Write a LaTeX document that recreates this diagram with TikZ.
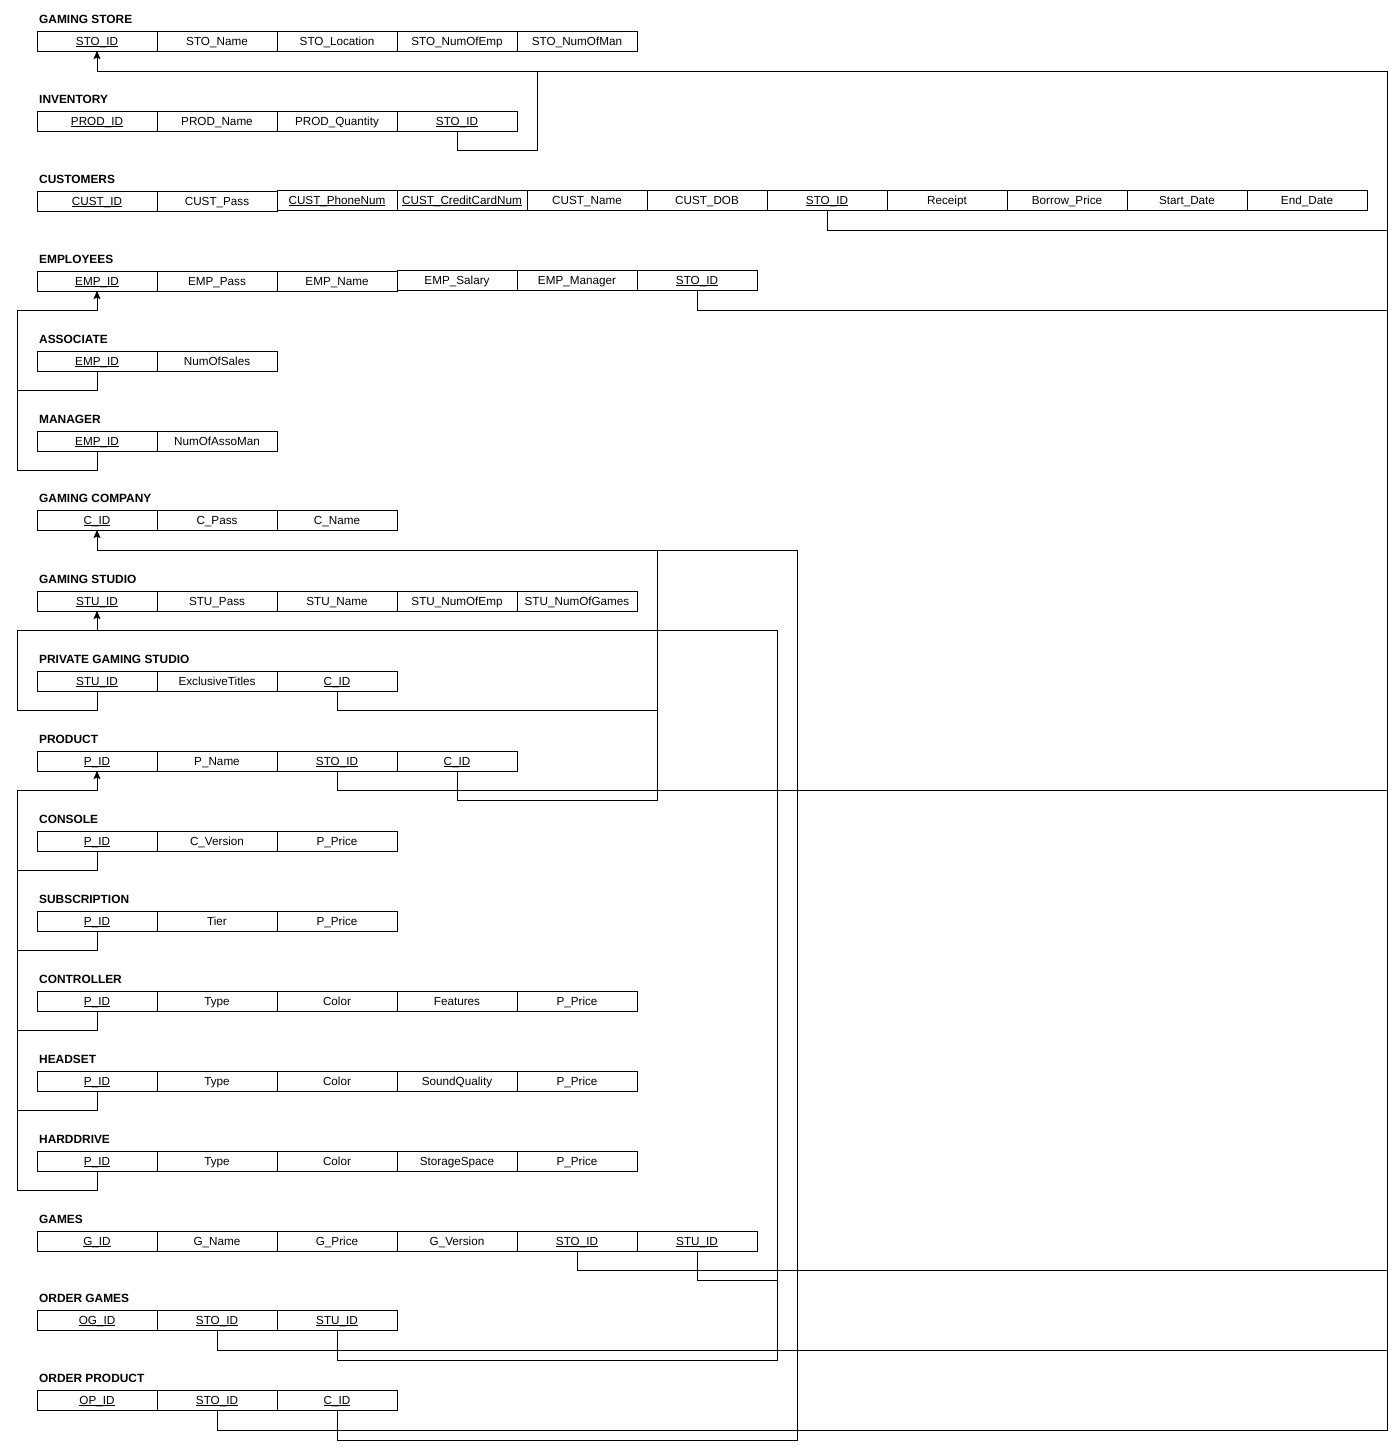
\documentclass[tikz,border=0pt]{standalone}
\usepackage{fontspec}
\setmainfont{Liberation Sans}
\usetikzlibrary{arrows.meta}
\newcommand{\uk}[1]{\underline{\smash{#1}}}
\newcommand{\ercells}[5]{%
  \foreach \txt [count=\i from #2] in {#5} {
    \node[cell] (#1-\i) at ({#3+120*(\i-#2)}, #4) {\txt};
  }}
\newcommand{\ertitle}[3]{\node[ttl] (#1-t) at (39, #2-8) {#3};}
\begin{document}
\begin{tikzpicture}[x=1pt,y=-1pt,
  cell/.style={draw, line width=1pt, anchor=north west, minimum width=120pt, minimum height=20pt,
     inner sep=1pt, outer sep=0pt, text height=8.3pt, text depth=0pt,
     font=\fontsize{11.7}{13}\selectfont},
  ttl/.style={anchor=base west, inner sep=0pt, font=\fontsize{11.9}{13}\selectfont\bfseries},
  link/.style={draw, line width=1pt, line cap=rect},
  ar/.style={-{Stealth[length=8pt,width=7pt,inset=1.5pt]}}]
\fill[white] (0,0) rectangle (1399,1452);
\useasboundingbox (0,0) rectangle (1399,1452);
\coordinate (rb) at (1387,0);
\coordinate (lb) at (17,0);
\coordinate (cb) at (797,0);
\coordinate (mb) at (657,0);
\coordinate (sb) at (777,0);
\coordinate (ib) at (537,0);

% tables
\ertitle{gs}{31}{GAMING STORE}
\ercells{gs}{1}{37}{31}{\uk{STO\_ID},STO\_Name,STO\_Location,STO\_NumOfEmp,STO\_NumOfMan}
\ertitle{inv}{111}{INVENTORY}
\ercells{inv}{1}{37}{111}{\uk{PROD\_ID},PROD\_Name,PROD\_Quantity,\uk{STO\_ID}}
\ertitle{cust}{191}{CUSTOMERS}
\ercells{cust}{1}{37}{191}{\uk{CUST\_ID},CUST\_Pass}
\ercells{cust}{3}{277}{190}{\uk{CUST\_PhoneNum}}
\node[cell, minimum width=130pt] (cust-4) at (397,190) {\uk{CUST\_CreditCardNum}};
\ercells{cust}{5}{527}{190}{CUST\_Name,CUST\_DOB,\uk{STO\_ID},Receipt,Borrow\_Price,Start\_Date,End\_Date}
\ertitle{emp}{271}{EMPLOYEES}
\ercells{emp}{1}{37}{271}{\uk{EMP\_ID},EMP\_Pass,EMP\_Name}
\ercells{emp}{4}{397}{270}{EMP\_Salary,EMP\_Manager,\uk{STO\_ID}}
\ertitle{asso}{351}{ASSOCIATE}
\ercells{asso}{1}{37}{351}{\uk{EMP\_ID},NumOfSales}
\ertitle{man}{431}{MANAGER}
\ercells{man}{1}{37}{431}{\uk{EMP\_ID},NumOfAssoMan}
\ertitle{comp}{510}{GAMING COMPANY}
\ercells{comp}{1}{37}{510}{\uk{C\_ID},C\_Pass,C\_Name}
\ertitle{stu}{591}{GAMING STUDIO}
\ercells{stu}{1}{37}{591}{\uk{STU\_ID},STU\_Pass,STU\_Name,STU\_NumOfEmp,STU\_NumOfGames}
\ertitle{pgs}{671}{PRIVATE GAMING STUDIO}
\ercells{pgs}{1}{37}{671}{\uk{STU\_ID},ExclusiveTitles,\uk{C\_ID}}
\ertitle{prod}{751}{PRODUCT}
\ercells{prod}{1}{37}{751}{\uk{P\_ID},P\_Name,\uk{STO\_ID},\uk{C\_ID}}
\ertitle{con}{831}{CONSOLE}
\ercells{con}{1}{37}{831}{\uk{P\_ID},C\_Version,P\_Price}
\ertitle{sub}{911}{SUBSCRIPTION}
\ercells{sub}{1}{37}{911}{\uk{P\_ID},Tier,P\_Price}
\ertitle{ctrl}{991}{CONTROLLER}
\ercells{ctrl}{1}{37}{991}{\uk{P\_ID},Type,Color,Features,P\_Price}
\ertitle{head}{1071}{HEADSET}
\ercells{head}{1}{37}{1071}{\uk{P\_ID},Type,Color,SoundQuality,P\_Price}
\ertitle{hdd}{1151}{HARDDRIVE}
\ercells{hdd}{1}{37}{1151}{\uk{P\_ID},Type,Color,StorageSpace,P\_Price}
\ertitle{games}{1231}{GAMES}
\ercells{games}{1}{37}{1231}{\uk{G\_ID},G\_Name,G\_Price,G\_Version,\uk{STO\_ID},\uk{STU\_ID}}
\ertitle{og}{1310}{ORDER GAMES}
\ercells{og}{1}{37}{1310}{\uk{OG\_ID},\uk{STO\_ID},\uk{STU\_ID}}
\ertitle{op}{1390}{ORDER PRODUCT}
\ercells{op}{1}{37}{1390}{\uk{OP\_ID},\uk{STO\_ID},\uk{C\_ID}}

% STO_ID references
\draw[link,ar] (rb |- 0,1430) -- (rb |- 0,71) -| (gs-1.south);
\draw[link] (inv-4.south) |- (ib |- 0,150) -- (ib |- 0,71);
\draw[link] (cust-7.south) |- (rb |- 0,230);
\draw[link] (emp-6.south) |- (rb |- 0,310);
\draw[link] (prod-3.south) |- (rb |- 0,790);
\draw[link] (games-5.south) |- (rb |- 0,1270);
\draw[link] (og-2.south) |- (rb |- 0,1350);
\draw[link] (op-2.south) |- (rb |- 0,1430);

% EMP_ID
\draw[link,ar] (lb |- 0,470) -- (lb |- 0,310) -| (emp-1.south);
\draw[link] (asso-1.south) |- (lb |- 0,390);
\draw[link] (man-1.south) |- (lb |- 0,470);

% C_ID
\draw[link,ar] (cb |- 0,1440) -- (cb |- 0,550) -| (comp-1.south);
\draw[link] (mb |- 0,550) -- (mb |- 0,800);
\draw[link] (pgs-3.south) |- (mb |- 0,710);
\draw[link] (prod-4.south) |- (mb |- 0,800);
\draw[link] (op-3.south) |- (cb |- 0,1440);

% STU_ID
\draw[link,ar] (sb |- 0,1360) -- (sb |- 0,630) -| (stu-1.south);
\draw[link] (lb |- 0,710) -- (lb |- 0,630) -- (stu-1.south |- 0,630);
\draw[link] (pgs-1.south) |- (lb |- 0,710);
\draw[link] (games-6.south) |- (sb |- 0,1280);
\draw[link] (og-3.south) |- (sb |- 0,1360);

% P_ID
\draw[link,ar] (lb |- 0,1190) -- (lb |- 0,790) -| (prod-1.south);
\draw[link] (con-1.south) |- (lb |- 0,870);
\draw[link] (sub-1.south) |- (lb |- 0,950);
\draw[link] (ctrl-1.south) |- (lb |- 0,1030);
\draw[link] (head-1.south) |- (lb |- 0,1110);
\draw[link] (hdd-1.south) |- (lb |- 0,1190);
\end{tikzpicture}
\end{document}
